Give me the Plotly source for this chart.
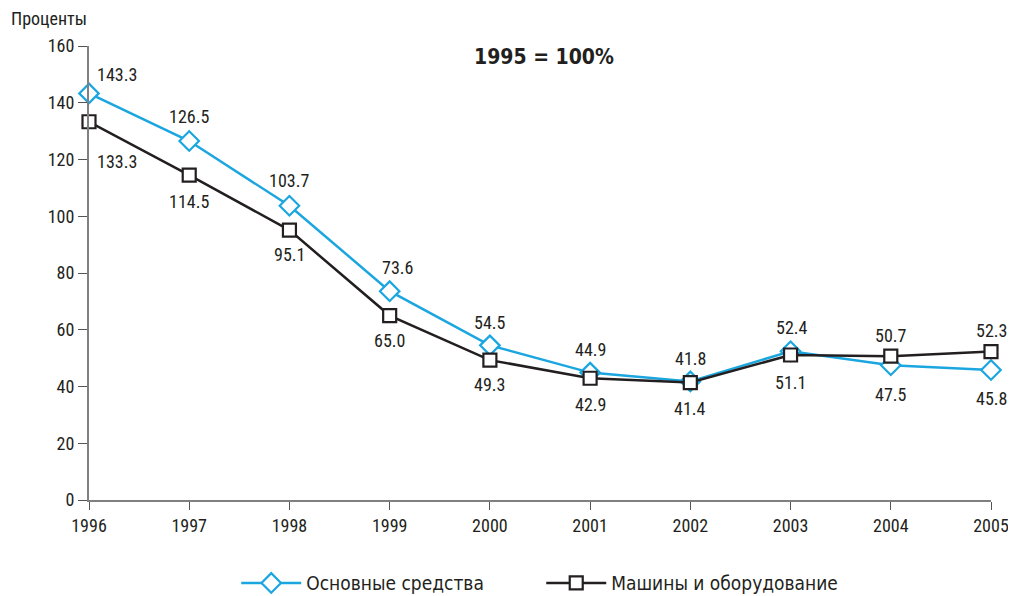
import plotly.graph_objects as go

years = [1996, 1997, 1998, 1999, 2000, 2001, 2002, 2003, 2004, 2005]
fixed_assets = [143.3, 126.5, 103.7, 73.6, 54.5, 44.9, 41.8, 52.4, 47.5, 45.8]
machinery = [133.3, 114.5, 95.1, 65.0, 49.3, 42.9, 41.4, 51.1, 50.7, 52.3]
series_names = ["Основные средства", "Машины и оборудование"]
y_ticks = [0, 20, 40, 60, 80, 100, 120, 140, 160]

# label offsets in pixels (dx, dy; dy positive = downward)
fixed_offsets = [(28, -19), (0, -25), (0, -25), (8, -24), (0, -23), (0, -23), (0, -23), (1, -24), (0, 29), (0, 28)]
mach_offsets = [(28, 40), (0, 26), (0, 24), (0, 25), (0, 24), (0, 26), (0, 26), (0, 27), (0, -21), (0, -21)]

BLUE = "#1ba6e0"
BLACK = "#231f20"
FONT = "Liberation Sans Narrow, Roboto Condensed, DejaVu Sans Condensed, Arial Narrow, sans-serif"
LFONT = "DejaVu Sans Condensed, DejaVu Sans, sans-serif"

fig = go.Figure()
fig.add_trace(go.Scatter(
    x=years, y=fixed_assets, name=series_names[0], mode="lines+markers",
    line=dict(color=BLUE, width=2.5),
    marker=dict(symbol="diamond", size=15, color="white", line=dict(color=BLUE, width=2.2)),
    cliponaxis=False,
))
fig.add_trace(go.Scatter(
    x=years, y=machinery, name=series_names[1], mode="lines+markers",
    line=dict(color=BLACK, width=2.5),
    marker=dict(symbol="square", size=13, color="white", line=dict(color=BLACK, width=2.2)),
    cliponaxis=False,
))

annotations = []
for series, offs in ((fixed_assets, fixed_offsets), (machinery, mach_offsets)):
    for x, v, (dx, dy) in zip(years, series, offs):
        annotations.append(dict(
            x=x, y=v, xref="x", yref="y", text=f"{v:.1f}", showarrow=False,
            xshift=dx, yshift=-dy, font=dict(family=FONT, size=18, color="#231f20"),
        ))
annotations.append(dict(
    x=0, y=1, xref="paper", yref="paper", xanchor="left", yanchor="middle",
    xshift=-80, yshift=28, text="Проценты", showarrow=False,
    font=dict(family=FONT, size=18, color="#231f20"),
))
annotations.append(dict(
    x=0.504, y=1, xref="paper", yref="paper", xanchor="center", yanchor="middle",
    yshift=-11, text="<b>1995 = 100%</b>", showarrow=False,
    font=dict(family=LFONT, size=21, color="#231f20"),
))

fig.update_layout(
    width=1008, height=588,
    margin=dict(l=81, r=25, t=38, b=96),
    paper_bgcolor="white", plot_bgcolor="white",
    showlegend=True,
    legend=dict(
        orientation="h", x=0.529, xanchor="center", xref="container",
        y=0.022, yanchor="middle", yref="container",
        font=dict(family=LFONT, size=19, color="#231f20"),
        itemwidth=60, entrywidth=230, tracegroupgap=0,
    ),
    annotations=annotations,
    font=dict(family=FONT, size=18, color="#231f20"),
)
fig.update_xaxes(
    range=[1996, 2005], tickvals=years, ticktext=[str(y) for y in years],
    automargin=False,
    showgrid=False, zeroline=False, showline=True, linecolor="#808080", linewidth=2,
    ticks="outside", ticklen=8, tickcolor="#555555", tickwidth=1,
    tickfont=dict(family=FONT, size=18, color="#231f20"),
)
fig.update_yaxes(
    range=[0, 160], tickvals=y_ticks, automargin=False,
    showgrid=False, zeroline=False, showline=True, linecolor="#808080", linewidth=2,
    ticks="outside", ticklen=9, tickcolor="#555555", tickwidth=1,
    tickfont=dict(family=FONT, size=18, color="#231f20"),
)

fig.write_html("out.html")
